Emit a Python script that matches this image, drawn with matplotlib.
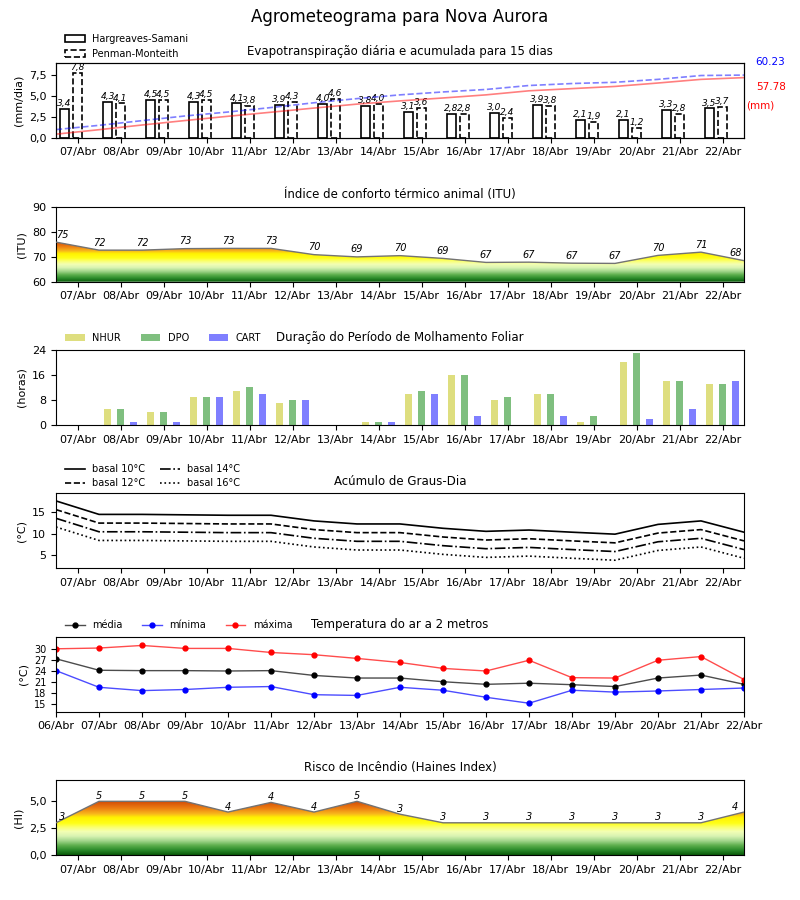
import numpy as np
import matplotlib
matplotlib.use("Agg")
import matplotlib.pyplot as plt
from matplotlib.patches import Polygon, Patch
from matplotlib.colors import LinearSegmentedColormap, Normalize

plt.rcParams['font.family'] = ['DejaVu Sans']

# ---------------- data ----------------
days = ['07/Abr', '08/Abr', '09/Abr', '10/Abr', '11/Abr', '12/Abr', '13/Abr', '14/Abr',
        '15/Abr', '16/Abr', '17/Abr', '18/Abr', '19/Abr', '20/Abr', '21/Abr', '22/Abr']
days_temp = ['06/Abr'] + days

et_hs = [3.4, 4.3, 4.5, 4.3, 4.1, 3.9, 4.0, 3.8, 3.1, 2.8, 3.0, 3.9, 2.1, 2.1, 3.3, 3.5]
et_pm = [7.8, 4.1, 4.5, 4.5, 3.8, 4.3, 4.6, 4.0, 3.6, 2.8, 2.4, 3.8, 1.9, 1.2, 2.8, 3.7]
cum_hs = [3.4, 7.7, 12.2, 16.5, 20.6, 24.5, 28.5, 32.3, 35.4, 38.2, 41.2, 45.1, 47.2, 49.3, 52.6, 56.1, 57.78]
cum_pm = [7.8, 11.9, 16.4, 20.9, 24.7, 29.0, 33.6, 37.6, 41.2, 44.0, 46.4, 50.2, 52.1, 53.3, 56.1, 59.8, 60.23]

itu = [75.8, 72.6, 72.6, 73.2, 73.3, 73.3, 70.8, 69.9, 70.4, 69.3, 67.7, 67.8, 67.4, 67.3, 70.5, 71.8, 68.4]

nhur = [0, 5, 4, 9, 11, 7, 0, 1, 10, 16, 8, 10, 1, 20, 14, 13]
dpo = [0, 5, 4, 9, 12, 8, 0, 1, 11, 16, 9, 10, 3, 23, 14, 13]
cart = [0, 1, 1, 9, 10, 8, 0, 1, 10, 3, 0, 3, 0, 2, 5, 14]

gd10 = [17.5, 14.4, 14.4, 14.3, 14.2, 14.2, 12.9, 12.2, 12.2, 11.2, 10.5, 10.8, 10.3, 9.85, 12.1, 12.9, 10.3]
gd12 = [15.5, 12.4, 12.4, 12.3, 12.2, 12.2, 10.9, 10.2, 10.2, 9.2, 8.5, 8.8, 8.3, 7.85, 10.1, 10.9, 8.3]
gd14 = [13.5, 10.4, 10.4, 10.3, 10.2, 10.2, 8.9, 8.2, 8.2, 7.2, 6.5, 6.8, 6.3, 5.85, 8.1, 8.9, 6.3]
gd16 = [11.5, 8.4, 8.4, 8.3, 8.2, 8.2, 6.9, 6.2, 6.2, 5.2, 4.5, 4.8, 4.3, 3.85, 6.1, 6.9, 4.3]

t_med = [27.3, 24.2, 24.1, 24.1, 24.0, 24.1, 22.8, 22.1, 22.1, 21.1, 20.4, 20.7, 20.3, 19.8, 22.1, 22.9, 20.4]
t_min = [24.1, 19.6, 18.7, 19.0, 19.6, 19.8, 17.6, 17.4, 19.6, 18.8, 16.9, 15.3, 18.8, 18.3, 18.6, 19.0, 19.4]
t_max = [30.0, 30.2, 30.9, 30.1, 30.1, 29.0, 28.4, 27.4, 26.3, 24.7, 24.0, 26.9, 22.2, 22.1, 26.9, 27.9, 21.7]

haines = [3.0, 5.0, 5.0, 5.0, 4.0, 4.9, 4.0, 5.0, 3.8, 3.0, 3.0, 3.0, 3.0, 3.0, 3.0, 3.0, 4.0]

# ---------------- helpers ----------------
risk_cmap = LinearSegmentedColormap.from_list('risk', [
    (0.00, '#0a5a0a'), (0.08, '#2a8a2a'), (0.16, '#5cae4c'), (0.24, '#a2d68c'),
    (0.32, '#d8f3b2'), (0.40, '#f3ffb4'), (0.47, '#fbff70'), (0.54, '#ffff18'),
    (0.64, '#fff200'), (0.70, '#f8b81c'), (0.80, '#ec7c12'), (0.90, '#d65208'),
    (1.00, '#c03800')])

def comma(v, fmt='{:.1f}'):
    return fmt.format(v).replace('.', ',')

def gradient_area(ax, x, y, ymin, vmin, vmax):
    verts = [(x[0], ymin)] + list(zip(x, y)) + [(x[-1], ymin)]
    poly = Polygon(verts, closed=True, facecolor='none', edgecolor='none')
    ax.add_patch(poly)
    top = max(y)
    grad = np.linspace(ymin, top, 300).reshape(-1, 1)
    im = ax.imshow(grad, extent=[x[0], x[-1], ymin, top], origin='lower',
                   aspect='auto', cmap=risk_cmap, norm=Normalize(vmin, vmax), zorder=1)
    im.set_clip_path(poly)
    ax.plot(x, y, color='0.45', lw=1.0, zorder=3)

def set_day_axis(ax):
    ax.set_xlim(-0.5, len(days) - 0.5)
    ax.set_xticks(np.arange(len(days)))
    ax.set_xticklabels(days)

fig = plt.figure(figsize=(8, 9), dpi=100)
fig.suptitle('Agrometeograma para Nova Aurora', fontsize=12, y=0.991)

L, W, H = 0.07, 0.86, 0.0835
bottoms = [0.8470, 0.6870, 0.5278, 0.3686, 0.2092, 0.0500]
axs = [fig.add_axes([L, b, W, H]) for b in bottoms]
for ax in axs:
    ax.tick_params(labelsize=8)

xi = np.arange(len(days))
xh = np.arange(len(days) + 1) - 0.5
lab_x = list(xh)
lab_x[0] = -0.35
lab_x[-1] = 15.3

TPAD = 6.0

# ---------------- panel 1: ET ----------------
ax = axs[0]
ax.bar(xi - 0.3, et_hs, width=0.2, facecolor='white', edgecolor='black', lw=1.2, zorder=2)
ax.bar(xi, et_pm, width=0.2, facecolor='white', edgecolor='black', lw=1.2, ls='--', zorder=2)
for xv, v in zip(xi - 0.3, et_hs):
    ax.text(xv, v + 0.1, comma(v), ha='center', va='bottom', fontsize=6.5, style='italic')
for xv, v in zip(xi, et_pm):
    ax.text(xv, v + 0.1, comma(v), ha='center', va='bottom', fontsize=6.5, style='italic')
set_day_axis(ax)
ax.set_ylim(0, 9)
ax.set_yticks([0, 2.5, 5, 7.5])
ax.set_yticklabels([comma(v) for v in [0, 2.5, 5, 7.5]])
ax.set_ylabel('(mm/dia)', fontsize=8)
ax.set_title('Evapotranspiração diária e acumulada para 15 dias', fontsize=8.5, pad=5.5)
tw = ax.twinx()
tw.plot(xh, cum_hs, color='red', alpha=0.5, lw=1.2)
tw.plot(xh, cum_pm, color='blue', alpha=0.5, lw=1.2, ls='--')
tw.set_ylim(0, 1.2 * max(cum_pm))
tw.set_yticks([])
tw.set_xlim(-0.5, len(days) - 0.5)
fig.text(0.944, 0.931, '{:.2f}'.format(cum_pm[-1]), color='blue', fontsize=7.5, va='center')
fig.text(0.945, 0.903, '{:.2f}'.format(cum_hs[-1]), color='red', fontsize=7.5, va='center')
fig.text(0.933, 0.883, '(mm)', color='red', fontsize=7.5, va='center')
h1 = [Patch(facecolor='white', edgecolor='black', lw=1.2),
      Patch(facecolor='white', edgecolor='black', lw=1.2, ls='--')]
ax.legend(h1, ['Hargreaves-Samani', 'Penman-Monteith'], loc='lower left',
          bbox_to_anchor=(0.005, 0.97), frameon=False, fontsize=7, ncol=1,
          borderaxespad=0.2, handlelength=2.0, labelspacing=0.5)

# ---------------- panel 2: ITU ----------------
ax = axs[1]
gradient_area(ax, xh, itu, 60, 60, 77.6)
for xv, v in zip(lab_x, itu):
    ax.text(xv, v + 1.0, '{:d}'.format(int(v)), ha='center', va='bottom', fontsize=7, style='italic', zorder=4)
set_day_axis(ax)
ax.set_ylim(60, 90)
ax.set_yticks([60, 70, 80, 90])
ax.set_ylabel('(ITU)', fontsize=8)
ax.set_title('Índice de conforto térmico animal (ITU)', fontsize=8.5, pad=TPAD + 0.5)

# ---------------- panel 3: Molhamento ----------------
ax = axs[2]
ax.bar(xi - 0.3, nhur, width=0.15, color='y', alpha=0.5, label='NHUR')
ax.bar(xi, dpo, width=0.15, color='g', alpha=0.5, label='DPO')
ax.bar(xi + 0.3, cart, width=0.15, color='b', alpha=0.5, label='CART')
set_day_axis(ax)
ax.set_ylim(0, 24)
ax.set_yticks([0, 8, 16, 24])
ax.set_ylabel('(horas)', fontsize=8)
ax.set_title('Duração do Período de Molhamento Foliar', fontsize=8.5, pad=6.5)
ax.legend(loc='lower left', bbox_to_anchor=(0.005, 1.01), frameon=False, fontsize=7,
          ncol=3, borderaxespad=0.2, handlelength=2.0, columnspacing=2.0)

# ---------------- panel 4: Graus-dia ----------------
ax = axs[3]
ax.plot(xh, gd10, color='black', lw=1.2, ls='-', label='basal 10°C')
ax.plot(xh, gd12, color='black', lw=1.2, ls='--', label='basal 12°C')
ax.plot(xh, gd14, color='black', lw=1.2, ls='-.', label='basal 14°C')
ax.plot(xh, gd16, color='black', lw=1.2, ls=':', label='basal 16°C')
set_day_axis(ax)
ax.set_ylim(2, 19.3)
ax.set_yticks([5, 10, 15])
ax.set_ylabel('(°C)', fontsize=8)
ax.set_title('Acúmulo de Graus-Dia', fontsize=8.5, pad=6.0)
ax.legend(loc='lower left', bbox_to_anchor=(0.005, 0.99), frameon=False, fontsize=7,
          ncol=2, borderaxespad=0.2, handlelength=2.0, labelspacing=0.4, columnspacing=1.5)

# ---------------- panel 5: Temperatura ----------------
ax = axs[4]
xt = np.arange(len(days_temp))
ax.plot(xt, t_med, color=(0, 0, 0, 0.7), lw=1.0, marker='o', ms=3.5,
        mfc='black', mec='black', label='média')
ax.plot(xt, t_min, color=(0, 0, 1, 0.7), lw=1.0, marker='o', ms=3.5,
        mfc='blue', mec='blue', label='mínima')
ax.plot(xt, t_max, color=(1, 0, 0, 0.7), lw=1.0, marker='o', ms=3.5,
        mfc='red', mec='red', label='máxima')
ax.set_xlim(0, len(days_temp) - 1)
ax.set_xticks(xt)
ax.set_xticklabels(days_temp)
ax.set_ylim(13.0, 33.3)
ax.set_yticks([15, 18, 21, 24, 27, 30])
ax.tick_params(axis='y', labelsize=7)
ax.set_ylabel('(°C)', fontsize=8)
ax.set_title('Temperatura do ar a 2 metros', fontsize=8.5, pad=6.0)
ax.legend(loc='lower left', bbox_to_anchor=(0.005, 1.01), frameon=False, fontsize=7,
          ncol=3, borderaxespad=0.2, handlelength=2.0, columnspacing=2.0)

# ---------------- panel 6: Haines ----------------
ax = axs[5]
gradient_area(ax, xh, haines, 0, 0, 5.45)
for xv, v in zip(lab_x, haines):
    ax.text(xv, v + 0.05, '{:d}'.format(int(v)), ha='center', va='bottom', fontsize=7, style='italic', zorder=4)
set_day_axis(ax)
ax.set_ylim(0, 7)
ax.set_yticks([0, 2.5, 5])
ax.set_yticklabels([comma(v) for v in [0, 2.5, 5]])
ax.set_ylabel('(HI)', fontsize=8)
ax.set_title('Risco de Incêndio (Haines Index)', fontsize=8.5, pad=6.5)

fig.savefig('out.png', dpi=100)
